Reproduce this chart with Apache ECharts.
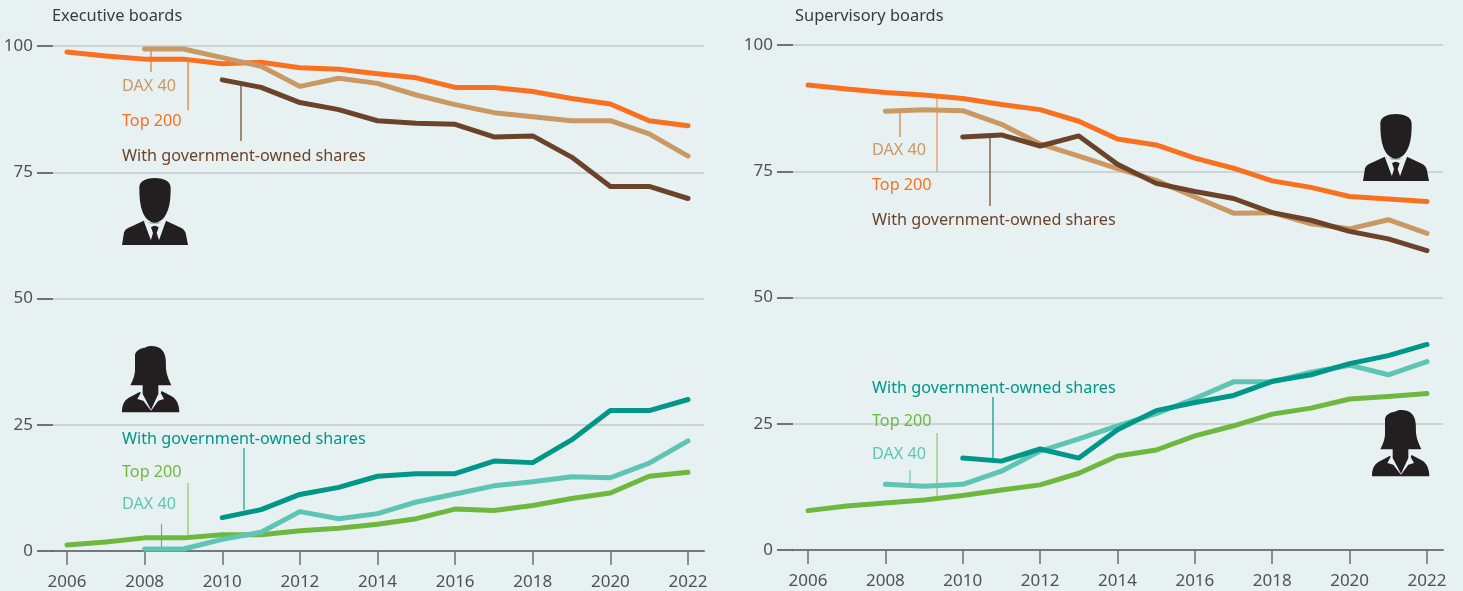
<!DOCTYPE html>
<html><head><meta charset="utf-8">
<style>html,body{margin:0;padding:0;background:#e8f1f1}#c{width:1463px;height:591px}</style>
<script src="https://cdn.jsdelivr.net/npm/echarts@6/dist/echarts.min.js"></script>
</head><body><div id="c"></div>
<script>
const years=[2006,2007,2008,2009,2010,2011,2012,2013,2014,2015,2016,2017,2018,2019,2020,2021,2022];
const tickYears=[2006,2008,2010,2012,2014,2016,2018,2020,2022];
const n=null;
const execMenTop200=[98.8,98,97.4,97.4,96.5,96.8,95.7,95.4,94.5,93.7,91.8,91.8,91,89.6,88.5,85.2,84.2];
const execMenDax=[n,n,99.4,99.4,97.7,96,92,93.6,92.6,90.3,88.4,86.8,86,85.2,85.2,82.6,78.2];
const execMenGov=[n,n,n,n,93.3,91.8,88.8,87.4,85.2,84.7,84.5,82,82.2,78,72.2,72.2,69.8];
const execWomenTop200=[1.2,1.8,2.6,2.6,3.2,3.2,4,4.5,5.3,6.4,8.3,8,9,10.4,11.5,14.8,15.6];
const execWomenDax=[n,n,0.4,0.4,2.3,3.7,7.8,6.4,7.4,9.7,11.3,12.9,13.7,14.7,14.5,17.4,21.8];
const execWomenGov=[n,n,n,n,6.6,8.2,11.2,12.6,14.8,15.3,15.3,17.8,17.5,22,27.8,27.8,30];
const supMenTop200=[92.1,91.3,90.6,90.1,89.4,88.2,87.2,84.9,81.4,80.2,77.6,75.6,73.1,71.8,70,69.5,69];
const supMenDax=[n,n,86.9,87.2,87,84.3,80.4,78,75.5,73.2,69.9,66.7,66.8,64.6,63.6,65.4,62.7];
const supMenGov=[n,n,n,n,81.8,82.2,80,82,76.4,72.6,71,69.6,66.8,65.3,63.1,61.6,59.3];
const supWomenTop200=[7.8,8.7,9.3,9.9,10.8,11.9,12.9,15.2,18.6,19.8,22.6,24.6,26.9,28.1,29.9,30.4,31];
const supWomenDax=[n,n,13,12.6,13,15.6,19.6,22,24.6,27,30,33.3,33.3,35.2,36.6,34.7,37.3];
const supWomenGov=[n,n,n,n,18.2,17.6,20,18.2,23.8,27.6,29.2,30.6,33.4,34.7,36.9,38.5,40.7];

const C={orange:'#f97120',tan:'#c99863',brown:'#6b432b',green:'#6fb83f',lteal:'#5ec5b5',teal:'#009688'};
const FONT='"Noto Sans", sans-serif';
const ln=(vals,color,g,name)=>({type:'line',name,xAxisIndex:g,yAxisIndex:g,showSymbol:false,symbol:'none',silent:true,
  data:years.map((y,i)=>[y,vals[i]]).filter(p=>p[1]!==null),
  lineStyle:{color,width:5,cap:'round',join:'round'},animation:false,z:3});
const xAxis=(g,min,max)=>({type:'value',gridIndex:g,min,max,splitLine:{show:false},
  axisLine:{show:true,onZero:false,lineStyle:{color:'#74797b',width:2}},
  axisTick:{show:true,length:14,customValues:tickYears,lineStyle:{color:'#6a6e70',width:1.5}},
  axisLabel:{show:true,customValues:tickYears,formatter:v=>String(v),color:'#4f5254',fontFamily:FONT,fontSize:17,margin:23}});
const yAxis=g=>({type:'value',gridIndex:g,min:0,max:100,interval:25,
  axisLine:{show:false},
  axisTick:{show:true,length:16,lineStyle:{color:'#47494a',width:1.5}},
  splitLine:{show:true,lineStyle:{color:'#c3cacc',width:1.5}},
  axisLabel:{color:'#4f5254',fontFamily:FONT,fontSize:17,margin:20}});
const text=(x,y,t,fill,size)=>({type:'text',x,y,z:5,style:{text:t,fill,font:(size||16.2)+'px '+FONT,verticalAlign:'middle',align:'left'}});
const lead=(x,y1,y2,stroke,w)=>({type:'line',z:2,shape:{x1:x,y1,x2:x,y2},style:{stroke,lineWidth:w||1.5}});
const DARK='#231f20',BG='#e8f1f1';
const shapes={
  manBody:'M0 201 L6 163 C10 153 20 148 30 145 L65 128 L80 134 L128 134 L132 128 L167 145 C178 149 188 155 191 165 L198 201 Z',
  manShirt:'M65 128 L90 195 L98 170 L108 195 L132 128 L110 136 L85 136 Z',
  manTie:'M87 148 Q98 138 110 148 L104 165 L114 195 L98 201 L84 195 L93 165 Z',
  manHead:'M52 28 C52 8 75 0 98 0 C122 0 146 8 146 30 C146 58 144 83 135 103 C127 123 112 134 98 134 C85 134 70 123 62 103 C54 83 52 58 52 28 Z',
  womanBody:'M0 202 C0 177 7 164 29 154 L54 140 L87 197 L119 138 L149 154 C166 164 172 182 172 202 Z',
  womanLapel:'M61 135 L46 162 L64 167 L87 197 Z M111 135 L126 162 L109 167 L87 197 Z',
  womanHair:'M39 32 C39 17 54 10 69 8 C79 0 109 0 122 17 C132 30 132 47 132 72 C134 92 142 107 148 121 L109 121 L109 147 L87 194 L62 147 L62 121 L25 121 C32 107 39 92 39 72 Z'
};
Object.keys(shapes).forEach(k=>echarts.graphic.registerShape(k,echarts.graphic.extendPath(shapes[k],{})));
const part=(type,fill)=>({type,z:4,shape:{},style:{fill}});
const man=(x,y)=>({type:'group',x,y,scaleX:1/3,scaleY:1/3,z:4,children:[part('manBody',DARK),part('manShirt',BG),part('manTie',DARK),part('manHead',DARK)]});
const woman=(x,y)=>({type:'group',x,y,scaleX:1/3,scaleY:1/3,z:4,children:[part('womanBody',DARK),part('womanLapel',BG),part('womanHair',DARK)]});
const graphic=[
  text(52,16,'Executive boards','#3a3a3c',16.4),text(795,16,'Supervisory boards','#3a3a3c',16.4),
  lead(151,50,72,C.tan),lead(188,60,110,'#f2a574',2),lead(241,84,141,C.brown,1.2),
  text(122,86,'DAX 40',C.tan),text(122,121,'Top 200',C.orange),text(122,156,'With government-owned shares',C.brown),
  lead(244,448,510,'#3fae9e',1.5),lead(188,483,535,'#9ccf7c',1.5),lead(161.5,524,548,'#4fb8a8',1.2),
  text(122,439,'With government-owned shares',C.teal),text(122,472,'Top 200',C.green),text(122,504,'DAX 40',C.lteal),
  lead(900,112,137,C.tan),lead(937,98,172,'#f2a574',1.5),lead(990,136,206,C.brown,1.2),
  text(872,150,'DAX 40',C.tan),text(872,185,'Top 200',C.orange),text(872,220,'With government-owned shares',C.brown),
  lead(993,397,458,C.teal,1.2),lead(937,433,498,'#9ccf7c',1.5),lead(910,470,485,'#6fc9ba',1.2),
  text(872,388,'With government-owned shares',C.teal),text(872,421,'Top 200',C.green),text(872,454,'DAX 40',C.lteal),
  man(122,178),woman(122,345),man(1363,114),woman(1372,409)
];
const chart=echarts.init(document.getElementById('c'),null,{renderer:'canvas'});
chart.setOption({animation:false,backgroundColor:BG,
  grid:[{left:53,top:46,width:651,height:505},{left:793,top:45,width:650,height:505}],
  xAxis:[xAxis(0,2005.639,2022.412),xAxis(1,2005.612,2022.414)],
  yAxis:[yAxis(0),yAxis(1)],
  series:[
    ln(execMenTop200,C.orange,0,'Executive men Top 200'),ln(execMenDax,C.tan,0,'Executive men DAX 40'),ln(execMenGov,C.brown,0,'Executive men government'),
    ln(execWomenTop200,C.green,0,'Executive women Top 200'),ln(execWomenDax,C.lteal,0,'Executive women DAX 40'),ln(execWomenGov,C.teal,0,'Executive women government'),
    ln(supMenTop200,C.orange,1,'Supervisory men Top 200'),ln(supMenDax,C.tan,1,'Supervisory men DAX 40'),ln(supMenGov,C.brown,1,'Supervisory men government'),
    ln(supWomenTop200,C.green,1,'Supervisory women Top 200'),ln(supWomenDax,C.lteal,1,'Supervisory women DAX 40'),ln(supWomenGov,C.teal,1,'Supervisory women government')
  ],
  graphic
});
</script></body></html>
